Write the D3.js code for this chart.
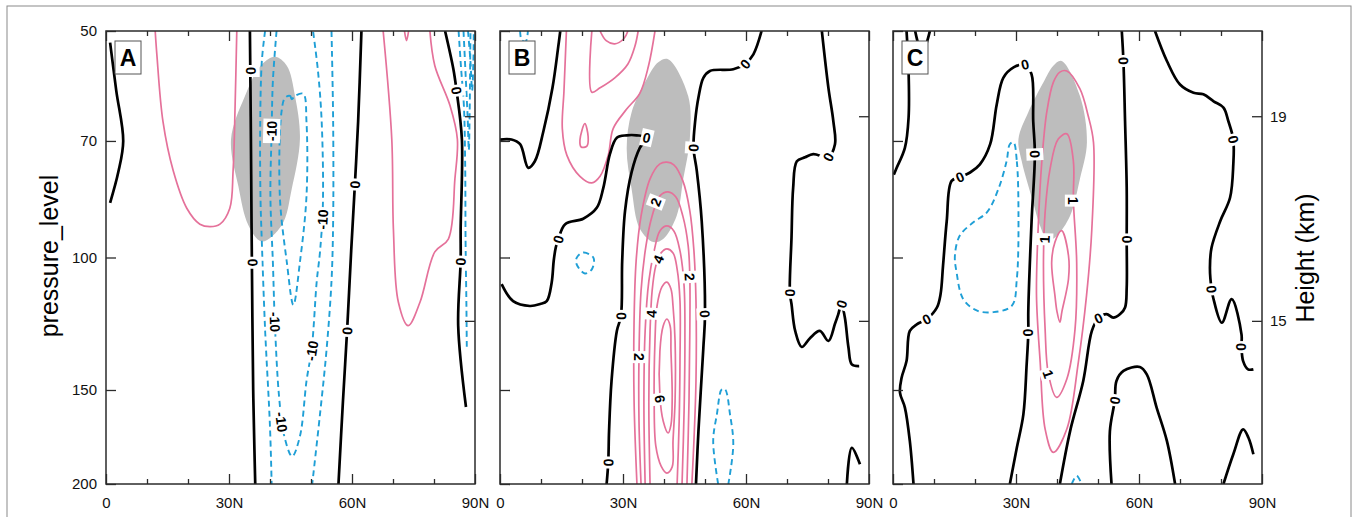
<!DOCTYPE html>
<html>
<head>
<meta charset="utf-8">
<script src="https://cdn.jsdelivr.net/npm/d3@7"></script>
<style>
  body { margin: 0; background: #fff; }
  svg text { font-family: "Liberation Sans", Arial, Helvetica, sans-serif; }
</style>
</head>
<body>
<svg id="chart" width="1354" height="517"></svg>
<script>
// ---------- axes / ticks ----------
const latMajor = [0, 30, 60, 90];
const latLabels = ["0", "30N", "60N", "90N"];
const latMinor = [10, 20, 40, 50, 70, 80];
const pressureTicks = [50, 70, 100, 150, 200];
const heightKm = [19, 15];
const heightPressure = [64.9, 121.4];
const panelNames = ["A", "B", "C"];

// ---------- panel A : [lat, hPa] ----------
const shadeA = [[41.2,54.1],[44.1,55.6],[46.1,61.0],[47.3,69.6],[45.3,81.1],[42.9,90.5],[38.0,95.2],[34.7,90.5],[32.3,80.5],[30.5,69.6],[33.9,61.0],[37.6,55.7]];
const zeroA = [
  [[1.0,51.8],[2.5,60],[4.2,70],[3.0,77],[1.0,84.6]],
  [[35.1,50],[35.3,65],[35.5,90],[35.7,120],[35.9,150],[36.2,180],[36.4,200]],
  [[62.3,50],[61.5,65.9],[60.7,80],[59.8,98],[58.8,125.2],[57.8,155],[56.7,200]],
  [[82.7,50],[84.7,56.1],[85.5,60],[86.8,69.6],[86.5,91.7],[86.5,101],[85.9,123.2],[87.8,158]]
];
const posA = [
  [[12.0,50],[12.4,53.7],[13.9,66],[16.4,76.7],[19.7,86],[22.9,90.3],[25.4,91],[27.8,90.3],[30.2,86],[31.0,76.7],[31.5,62.5],[31.9,50]],
  [[67.6,50],[69.7,69.6],[70.1,91.7],[71.3,114.6],[73.7,123.2],[76.6,114.6],[80.2,98.3],[83.5,94.5],[85.1,78.6],[85.7,69.6],[83.9,62.8],[80.2,55.6],[79.0,50]],
  [[72.8,50],[73.3,51.5],[73.8,50]]
];
const posAClosed = [];
const negA = [
  [[38.8,50],[38.0,54.9],[37.6,67.5],[37.7,84.2],[38.0,95.1],[38.8,124.5],[40.0,168],[40.4,200]],
  [[41.6,50],[40.7,58.3],[40.4,67.9],[40.1,82.9],[40.7,101.4],[41.2,122.8],[42.2,152.8],[43.4,172],[45.4,183.8],[47.3,172.8],[48.9,146],[50.2,131.7],[51.4,107.5],[52.2,98.2],[52.9,85.0],[52.6,65.9],[51.7,56.5],[50.5,50]],
  [[55.0,50],[55.4,65.9],[55.4,89.5],[55.0,107.5],[53.8,132.5],[52.2,161.5],[50.3,200]],
  [[86.0,50],[86.6,56],[87.3,63],[87.6,75],[87.7,95],[87.9,115],[88.0,132]],
  [[87.2,50],[87.7,57],[88.2,65],[88.5,72],[88.7,64],[88.8,57],[88.9,50]],
  [[88.3,50],[88.9,55],[89.3,60],[89.6,55],[89.7,50]]
];
const negAClosed = [
  [[43.7,61.3],[44.9,61.0],[45.3,61.6],[46.1,61.0],[48.1,60.6],[48.9,66.1],[48.9,82.9],[47.3,101.4],[45.7,115.6],[44.1,101.4],[42.4,82.9],[42.8,64.1]]
];
const labelsA = [
  [35.4,56.5,"0"],[35.8,101.6,"0"],[60.7,80,"0"],[58.8,125.2,"0"],[85.5,60,"0"],[86.5,101.3,"0"],
  [40.4,67.9,"-10","up"],[41.2,121.8,"-10","down"],[42.8,165.4,"-10","down"],[50.2,133,"-10","up"],[52.8,89,"-10","up"]
];

// ---------- panel B ----------
const shadeB = [[41.0,54.5],[45.9,61.0],[46.3,69.6],[44.7,78.6],[43.1,88.0],[39.8,94.5],[37.4,95.4],[34.1,91.6],[32.1,81.1],[30.9,71.7],[32.1,64.1],[35.8,57.9],[38.6,55.0]];
const zeroB = [
  [[0,69.7],[2.8,69.7],[4.9,70.7],[6.9,76.0],[8.5,74.5],[10.6,67.9],[12.8,59.5],[14.2,52.5],[14.7,50]],
  [[0.4,108.5],[3.2,114.3],[7.3,116.0],[9.8,115.3],[11.4,114.3],[12.6,108],[13.1,101],[13.6,97],[14.2,94.6],[15.9,90.3],[20.3,88.8],[23.6,85.9],[25.2,80.8],[26.8,72.9],[28.5,69.3],[30.9,68.8],[33.3,68.8],[35.8,69.3],[34.1,71.5],[32.1,77.0],[30.5,86.7],[29.8,101.1],[29.5,119.6],[28.5,125.2],[27.2,146],[26.6,170],[26.4,187.3],[26.0,200]],
  [[63.8,50],[61.8,53.7],[59.8,55.3],[56.9,56.2],[51.2,56.5],[49.6,57.7],[48.4,61.3],[47.6,65.9],[47.2,71.5],[48.0,76.7],[49.2,89.5],[50.0,118.9],[49.6,131.8],[48.4,170.1],[47.8,200]],
  [[78.5,50],[80.1,59.5],[81.3,65.9],[81.7,70.7],[80.1,73.5],[76.4,72.9],[74.4,73.6],[72.4,74.5],[71.5,80.8],[71.1,94.1],[70.7,111.4],[71.1,115.3],[72.0,125.2],[73.6,131.5],[75.6,128.0],[78.0,125.2],[80.1,129.1],[81.7,122.5],[82.5,119],[83.3,115.3],[84.1,120.1],[85.0,131.8],[85.8,138.7],[87.6,139.4]],
  [[84.6,200],[85.8,179],[87.8,188.3]]
];
const posB = [
  [[16.2,50],[15.6,60.1],[15.2,67.4],[16.3,73.1],[19.5,78.0],[22.4,79.6],[24.4,78.0],[26.4,73.1],[27.6,67.4],[30.9,63.5],[34.1,60.5],[36.2,55.7],[37.8,50]],
  [[22.4,50],[22.4,60.3],[24.4,59.5],[28.0,57.7],[31.2,55.3],[32.9,52.4],[33.7,50]],
  [[24.4,50],[25.9,51.5],[28.0,52.0],[30.2,51.2],[31.2,50]],
  [[33.4,200],[32.7,155.1],[32.7,121.4],[33.2,101.1],[34.4,88.1],[36.6,78.6],[39.0,75.1],[40.7,74.7],[42.4,75.3],[44.6,79.1],[46.3,86.7],[47.3,98.0],[47.8,114.2],[47.8,145.9],[47.3,175.3],[46.8,200]],
  [[34.4,200],[33.9,164.9],[33.9,135.6],[34.4,110.8],[35.6,96.5],[37.1,88.1],[39.0,82.8],[41.0,81.8],[42.9,83.1],[44.6,88.1],[45.9,96.5],[46.3,106.1],[46.3,125.2],[46.1,155.1],[45.6,200]],
  [[35.4,200],[35.1,155.1],[35.4,125.2],[36.3,107.5],[37.6,98.0],[39.0,92.2],[40.7,90.8],[42.4,92.2],[43.9,98.0],[44.9,109.1],[45.1,129.1],[44.9,159.9],[44.4,200]],
  [[36.6,200],[36.3,155.1],[36.6,125.2],[37.1,110.8],[38.0,102.6],[39.3,98.6],[40.7,97.4],[42.2,98.6],[43.2,103.6],[43.9,114.2],[43.9,137.3],[43.7,164.9],[43.2,200]]
];
const posBClosed = [
  [[20.7,66.4],[21.5,69.1],[21.2,71.1],[19.8,71.3],[19.5,69.8]],
  [[40.7,107.8],[41.7,110.1],[42.2,116.0],[42.7,129.1],[42.7,155.1],[42.2,175.3],[42.0,189.8],[40.7,193.4],[39.3,189.3],[38.0,178.0],[37.6,155.1],[37.8,129.1],[38.3,116.0],[39.5,109.4]],
  [[40.7,120.7],[41.5,123.3],[41.7,133.1],[42.0,152.8],[41.7,166.9],[41.0,171.1],[39.8,164.9],[39.0,152.8],[39.0,133.1],[39.8,123.3]]
];
const negB = [
  [[53.2,200],[52.0,175.3],[52.9,161.6],[54.1,149.7],[54.9,149.7],[56.1,161.6],[56.9,177.1],[55.7,200]],
  [[4.9,50],[5.3,51.4],[6.3,51.6],[6.8,50]]
];
const negBClosed = [
  [[18.7,100.1],[20.3,98.5],[22.8,100.1],[22.4,103.7],[20.7,105.0],[18.7,102.1]]
];
const labelsB = [
  [14.2,94.6,"0"],[35.8,69.3,"0"],[29.5,119.6,"0"],[26.4,187.3,"0"],[59.8,55.3,"0"],[47.2,71.5,"0"],
  [50.0,118.9,"0"],[80.1,73.5,"0"],[70.7,111.4,"0"],[83.3,115.3,"0"],
  [38.0,84.4,"2"],[38.6,100.5,"4"],[46.3,106.1,"2"],[36.9,118.8,"4"],[33.9,135.6,"2"],[39.0,154.2,"6"]
];

// ---------- panel C ----------
const shadeC = [[41.1,54.8],[45.6,61.0],[47.3,70.3],[45.6,78.6],[43.2,88.0],[40.0,93.5],[37.8,95.0],[35.8,90.5],[34.2,84.5],[31.4,74.5],[30.6,69.6],[33.0,64.1],[36.7,58.5],[39.1,55.6]];
const zeroC = [
  [[5.4,50],[7.1,53.5],[9.0,50]],
  [[3.3,50],[3.8,56.5],[3.8,65.2],[2.9,71.5],[0.9,76.0],[0.2,77.6]],
  [[5.0,200],[4.1,175.3],[2.9,158.3],[1.7,151.2],[2.1,144.5],[3.3,137.3],[4.1,125.2],[5.8,122.7],[8.2,120.8],[10.7,116.6],[11.6,111.9],[12.2,102.6],[13.1,89.5],[14.3,79.1],[16.3,78.2],[18.8,77.1],[21.2,75.2],[23.7,70.7],[25.3,62.6],[26.9,57.7],[29.4,55.9],[32.2,55.4],[33.8,57.1],[34.2,65.9],[34.6,72.9],[33.8,89.5],[33.0,117.8],[33.0,125.9],[32.6,138.7],[31.8,161.6],[30.2,179.0],[28.5,200]],
  [[55.8,50],[56.2,54.8],[56.6,65.9],[57.0,80.8],[57.0,94.6],[57.0,109.7],[56.6,116.5],[55.4,118.9],[53.7,120.2],[52.1,118.9],[50.1,120.4],[48.5,125.2],[46.4,145.9],[43.2,170.1],[40.7,200]],
  [[63.9,50],[66.8,54.8],[70.0,58.9],[73.3,60.4],[75.7,60.7],[78.2,62.0],[80.6,63.2],[81.8,65.9],[83.0,69.7],[83.0,75.2],[82.2,83.3],[79.8,89.5],[77.7,97.0],[77.3,103.2],[77.7,110.2],[78.1,113.1],[80.2,122.1],[82.6,113.6],[85.0,126.5],[85.0,131.5],[85.4,137.3],[86.6,140.8],[87.9,140.8]],
  [[53.3,200],[52.9,170.1],[54.1,154.8],[54.5,145.9],[56.2,141.5],[60.2,139.8],[61.9,143.0],[64.3,158.3],[66.8,175.3],[68.8,200]],
  [[80.6,200],[83.0,182.6],[85.4,169.2],[86.7,173.6],[87.9,182.6]]
];
const posC = [];
const posCClosed = [
  [[42.4,56.5],[45.6,59.7],[47.6,64.8],[48.9,70.3],[48.5,91.6],[47.2,112.4],[45.2,137.8],[42.4,169.0],[39.1,181.5],[37.1,169.0],[35.9,137.8],[35.0,112.4],[35.4,91.6],[36.3,74.5],[37.5,64.1],[39.1,58.5],[40.7,56.7]],
  [[42.4,68.5],[44.0,74.5],[44.0,84.0],[44.8,101.5],[44.4,124.5],[42.4,145.0],[39.9,153.4],[37.9,142.8],[37.1,124.5],[36.7,101.5],[37.1,87.1],[38.3,76.3],[40.3,69.6]],
  [[41.1,92.1],[42.8,99.4],[42.8,106.8],[41.2,118],[40.7,121.9],[40.0,118],[39.5,112.4],[38.7,101.5],[39.5,95.4]]
];
const negC = [
  [[43.6,200],[44.8,195.1],[46.0,200]]
];
const negCClosed = [
  [[29.4,70.3],[30.2,74.5],[30.6,87.1],[30.2,106.8],[29.0,115.9],[24.5,118.2],[20.4,117.6],[17.1,113.5],[15.5,104.6],[15.1,99.4],[16.3,93.5],[19.6,89.8],[22.9,87.1],[25.7,81.1],[27.7,74.5],[28.5,70.7]]
];
const labelsC = [
  [8.2,120.8,"0"],[16.3,78.2,"0"],[32.2,55.4,"0"],[34.6,72.9,"0"],[33.0,125.9,"0"],
  [56.2,54.8,"0"],[57.0,94.6,"0"],[50.1,120.4,"0"],[83.0,69.7,"0"],[77.7,110.2,"0"],[85.0,131.5,"0"],[54.1,154.8,"0"],
  [44.0,84.0,"1"],[37.9,142.8,"1"],[37.0,94.6,"1"]
];

// ---------- layout ----------
const panelTop = 31, panelH = 453, panelW = 369;
const panelLeft = [106, 500, 893];
const pinkColor = "#e5719a", blueColor = "#1f9fd6", shadeColor = "#bdbdbd";

const panels = [
  { shade: shadeA, zero: zeroA, pos: posA, posClosed: posAClosed, neg: negA, negClosed: negAClosed, labels: labelsA },
  { shade: shadeB, zero: zeroB, pos: posB, posClosed: posBClosed, neg: negB, negClosed: negBClosed, labels: labelsB },
  { shade: shadeC, zero: zeroC, pos: posC, posClosed: posCClosed, neg: negC, negClosed: negCClosed, labels: labelsC }
];

const svg = d3.select("#chart");
const defs = svg.append("defs");

// outer figure border
svg.append("rect")
  .attr("x", 7).attr("y", 6).attr("width", 1344).attr("height", 600)
  .attr("fill", "none").attr("stroke", "#8a8a8a").attr("stroke-width", 1);

panels.forEach((p, i) => {
  const x0 = panelLeft[i];
  const x = d3.scaleLinear().domain([0, 90]).range([x0, x0 + panelW]);
  const y = d3.scaleLog().domain([50, 200]).range([panelTop, panelTop + panelH]);

  defs.append("clipPath").attr("id", "clip" + i)
    .append("rect").attr("x", x0).attr("y", panelTop).attr("width", panelW).attr("height", panelH);

  const g = svg.append("g");
  const plot = g.append("g").attr("clip-path", `url(#clip${i})`);

  const openLine = d3.line().x(d => x(d[0])).y(d => y(d[1])).curve(d3.curveCatmullRom.alpha(0.5));
  const closedLine = d3.line().x(d => x(d[0])).y(d => y(d[1])).curve(d3.curveCatmullRomClosed.alpha(0.5));

  // shaded area
  plot.append("path").attr("d", closedLine(p.shade)).attr("fill", shadeColor);

  const drawSet = (lines, gen, color, width, dash) => {
    plot.append("g").selectAll("path")
      .data(lines)
      .enter()
      .append("path")
      .attr("d", d => gen(d))
      .attr("fill", "none")
      .attr("stroke", color)
      .attr("stroke-width", width)
      .attr("stroke-dasharray", dash)
      .attr("stroke-linejoin", "round");
  };
  drawSet(p.pos, openLine, pinkColor, 1.7, null);
  drawSet(p.posClosed, closedLine, pinkColor, 1.7, null);
  drawSet(p.neg, openLine, blueColor, 1.9, "6,4");
  drawSet(p.negClosed, closedLine, blueColor, 1.9, "6,4");
  drawSet(p.zero, openLine, "#000", 2.7, null);

  // contour labels, rotated along the nearest line segment
  const allLines = [];
  p.zero.forEach(l => allLines.push({ pts: l, closed: false }));
  p.pos.forEach(l => allLines.push({ pts: l, closed: false }));
  p.posClosed.forEach(l => allLines.push({ pts: l, closed: true }));
  p.neg.forEach(l => allLines.push({ pts: l, closed: false }));
  p.negClosed.forEach(l => allLines.push({ pts: l, closed: true }));

  const lg = g.append("g");
  p.labels.forEach(([lat, pr, txt, dir]) => {
    const px = x(lat), py = y(pr);
    let best = { d: Infinity, a: 0 };
    allLines.forEach(({ pts, closed }) => {
      const n = pts.length, m = closed ? n : n - 1;
      for (let k = 0; k < m; k++) {
        const a = pts[k], b = pts[(k + 1) % n];
        const ax = x(a[0]), ay = y(a[1]), bx = x(b[0]), by = y(b[1]);
        const vx = bx - ax, vy = by - ay;
        const len2 = vx * vx + vy * vy || 1;
        let t = ((px - ax) * vx + (py - ay) * vy) / len2;
        t = Math.max(0, Math.min(1, t));
        const dx = ax + t * vx - px, dy = ay + t * vy - py;
        const dd = dx * dx + dy * dy;
        if (dd < best.d) best = { d: dd, a: Math.atan2(vy, vx) * 180 / Math.PI };
      }
    });
    let ang = best.a;
    if (ang > 90) ang -= 180;
    if (ang <= -90) ang += 180;
    if (dir === "down" && ang < -45) ang += 180;
    if (dir === "up" && ang > 45) ang -= 180;

    const t = lg.append("g").attr("transform", `translate(${px},${py}) rotate(${ang})`);
    const text = t.append("text")
      .attr("text-anchor", "middle")
      .attr("dy", "0.36em")
      .attr("font-size", "14px")
      .attr("font-weight", "bold")
      .attr("fill", "#000")
      .text(txt);
    const bb = text.node().getBBox();
    t.insert("rect", "text")
      .attr("x", bb.x - 2).attr("y", bb.y - 0.5)
      .attr("width", bb.width + 4).attr("height", bb.height + 1)
      .attr("fill", "#fff");
  });

  // frame
  g.append("rect")
    .attr("x", x0).attr("y", panelTop).attr("width", panelW).attr("height", panelH)
    .attr("fill", "none").attr("stroke", "#2b2b2b").attr("stroke-width", 1.5);

  const styleAxis = (sel) => {
    sel.select(".domain").remove();
    sel.selectAll(".tick line").attr("stroke", "#2b2b2b").attr("stroke-width", 1.3);
    sel.selectAll(".tick text").attr("font-size", "15px").attr("fill", "#111");
  };

  // bottom
  g.append("g").attr("transform", `translate(0,${panelTop + panelH})`)
    .call(d3.axisBottom(x).tickValues(latMajor).tickSize(-10).tickSizeOuter(0).tickPadding(13)
      .tickFormat((d, k) => latLabels[k]))
    .call(styleAxis);
  g.append("g").attr("transform", `translate(0,${panelTop + panelH})`)
    .call(d3.axisBottom(x).tickValues(latMinor).tickSize(-5).tickSizeOuter(0).tickFormat(""))
    .call(styleAxis);
  // top
  g.append("g").attr("transform", `translate(0,${panelTop})`)
    .call(d3.axisTop(x).tickValues(latMajor).tickSize(-10).tickSizeOuter(0).tickFormat(""))
    .call(styleAxis);
  g.append("g").attr("transform", `translate(0,${panelTop})`)
    .call(d3.axisTop(x).tickValues(latMinor).tickSize(-5).tickSizeOuter(0).tickFormat(""))
    .call(styleAxis);
  // left
  g.append("g").attr("transform", `translate(${x0},0)`)
    .call(d3.axisLeft(y).tickValues(pressureTicks).tickSize(-10).tickSizeOuter(0).tickPadding(9)
      .tickFormat(i === 0 ? (d => d) : ""))
    .call(styleAxis);
  // right (height)
  g.append("g").attr("transform", `translate(${x0 + panelW},0)`)
    .call(d3.axisRight(y).tickValues(heightPressure).tickSize(-10).tickSizeOuter(0).tickPadding(8)
      .tickFormat(i === 2 ? ((d, k) => heightKm[k]) : ""))
    .call(styleAxis);

  // panel letter
  g.append("rect")
    .attr("x", x0 + 9).attr("y", panelTop + 10).attr("width", 26).attr("height", 33)
    .attr("fill", "#fff").attr("stroke", "#555").attr("stroke-width", 1);
  g.append("text")
    .attr("x", x0 + 22).attr("y", panelTop + 35)
    .attr("text-anchor", "middle")
    .attr("font-size", "23px").attr("font-weight", "bold")
    .text(panelNames[i]);
});

// axis titles
svg.append("text")
  .attr("transform", "translate(58,256) rotate(-90)")
  .attr("text-anchor", "middle")
  .attr("font-size", "25px")
  .text("pressure_level");
svg.append("text")
  .attr("transform", "translate(1314,258) rotate(-90)")
  .attr("text-anchor", "middle")
  .attr("font-size", "25px")
  .text("Height (km)");
</script>
</body>
</html>
